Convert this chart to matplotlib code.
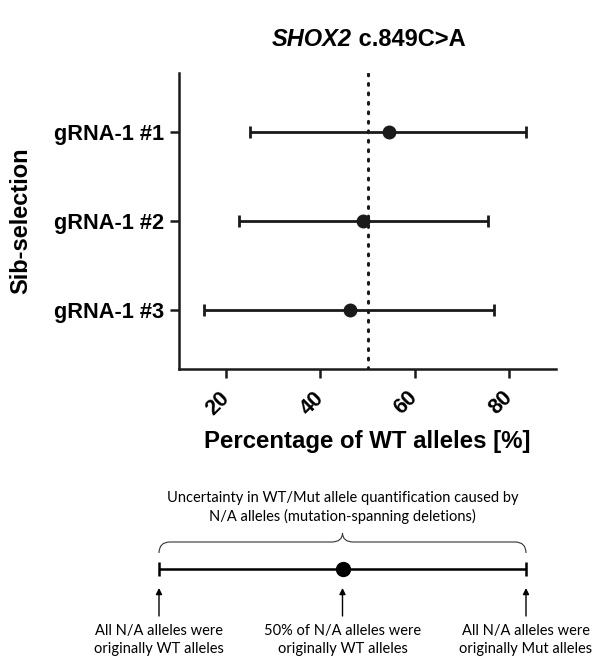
import matplotlib.pyplot as plt
from matplotlib.path import Path
from matplotlib.patches import PathPatch
from matplotlib.transforms import ScaledTranslation

plt.rcParams['font.family'] = ['Liberation Sans', 'DejaVu Sans']

# data
labels = ['gRNA-1 #1', 'gRNA-1 #2', 'gRNA-1 #3']
wt_pct = [54.5, 49.1, 46.2]
low = [25.1, 22.8, 15.3]
high = [83.6, 75.5, 76.8]
ref_line = 50
xticks = [20, 40, 60, 80]

# schematic
sch_x = [0, 50, 100]
sch_top = ['Uncertainty in WT/Mut allele quantification caused by',
           'N/A alleles (mutation-spanning deletions)']
sch_notes = ['All N/A alleles were\noriginally WT alleles',
             '50% of N/A alleles were\noriginally WT alleles',
             'All N/A alleles were\noriginally Mut alleles']

fig = plt.figure(figsize=(5.97, 6.62), dpi=100)
ax = fig.add_axes([179/597, 1-369/662, 377/597, 296/662])

ypos = [1, 2, 3]
xerr = [[w - l for w, l in zip(wt_pct, low)], [h - w for w, h in zip(wt_pct, high)]]
ax.errorbar(wt_pct, ypos, xerr=xerr, fmt='o', color='#1a1a1a', ms=9,
            elinewidth=2, capsize=4.5, capthick=2, zorder=3)
ax.axvline(ref_line, color='#1a1a1a', lw=2.2, linestyle=(0, (0.6, 2.5)),
           dash_capstyle='round', zorder=2)

ax.set_xlim(10, 90)
ax.set_ylim(3.67, 0.33)
ax.set_yticks(ypos)
ax.set_yticklabels(labels, fontsize=15.7, fontweight='bold')
ax.set_xticks(xticks)
ax.set_xticklabels([str(t) for t in xticks], fontsize=15.5, fontweight='bold',
                   rotation=45, ha='right', va='center', rotation_mode='anchor')
shift = ScaledTranslation(5/100, 0, fig.dpi_scale_trans)
for lab in ax.get_xticklabels():
    lab.set_transform(lab.get_transform() + shift)
ax.tick_params(width=1.8, length=6.5, color='#1a1a1a', pad=4)
ax.tick_params(axis='x', pad=12)
for s in ['top', 'right']:
    ax.spines[s].set_visible(False)
for s in ['left', 'bottom']:
    ax.spines[s].set_linewidth(1.8)
    ax.spines[s].set_color('#1a1a1a')
ax.set_xlabel('Percentage of WT alleles [%]', fontsize=17.3, fontweight='bold', labelpad=8)
ax.set_ylabel('Sib-selection', fontsize=17, fontweight='bold')
ax.yaxis.set_label_coords(-0.39, 0.5)

t1 = fig.text(352/597, 1-40/662, 'SHOX2', fontsize=17, fontweight='bold',
              fontstyle='italic', ha='right', va='center')
ax.annotate(' c.849C>A', xy=(1, 0), xycoords=t1, ha='left', va='bottom',
            fontsize=17, fontweight='bold', annotation_clip=False)

# schematic axes: x 0..100 maps 159..526 px, y in pixels (top-down)
sax = fig.add_axes([0, 0, 1, 200/662])
px0, px1 = 159, 526
sc = (px1 - px0) / 100
sax.set_xlim(-px0/sc, (597 - px0)/sc)
sax.set_ylim(662, 462)
sax.axis('off')

fs = 'Lato'
line_y = 569
sax.errorbar([sch_x[1]], [line_y], xerr=[[sch_x[1] - sch_x[0]], [sch_x[2] - sch_x[1]]],
             fmt='o', color='black', ms=10, elinewidth=1.8, capsize=5, capthick=1.8)

# curly brace
x0, x1, xm = sch_x[0], sch_x[2], sch_x[1]
yb, yh, yt = 553, 542, 533
r = 3
verts = [(x0, yb), (x0, yh), (x0 + r, yh), (x0 + r, yh),
         (xm - r, yh), (xm, yh), (xm, yt),
         (xm, yh), (xm + r, yh), (xm + r, yh),
         (x1 - r, yh), (x1, yh), (x1, yb)]
codes = [Path.MOVETO, Path.CURVE3, Path.CURVE3, Path.LINETO,
         Path.LINETO, Path.CURVE3, Path.CURVE3,
         Path.CURVE3, Path.CURVE3, Path.LINETO,
         Path.LINETO, Path.CURVE3, Path.CURVE3]
sax.add_patch(PathPatch(Path(verts, codes), fill=False, lw=0.8, color='#333333'))

sax.text(xm, 498, sch_top[0], family=fs, fontsize=10.5, ha='center', va='center')
sax.text(xm, 516, sch_top[1], family=fs, fontsize=10.5, ha='center', va='center')

for x, note in zip(sch_x, sch_notes):
    sax.annotate('', xy=(x, 588), xytext=(x, 616),
                 arrowprops=dict(arrowstyle='-|>', lw=1, color='black',
                                 mutation_scale=9, shrinkA=0, shrinkB=0))
    sax.text(x, 640, note, family=fs, fontsize=10.5, ha='center', va='center',
             linespacing=1.3)

fig.savefig('out.png', dpi=100)
